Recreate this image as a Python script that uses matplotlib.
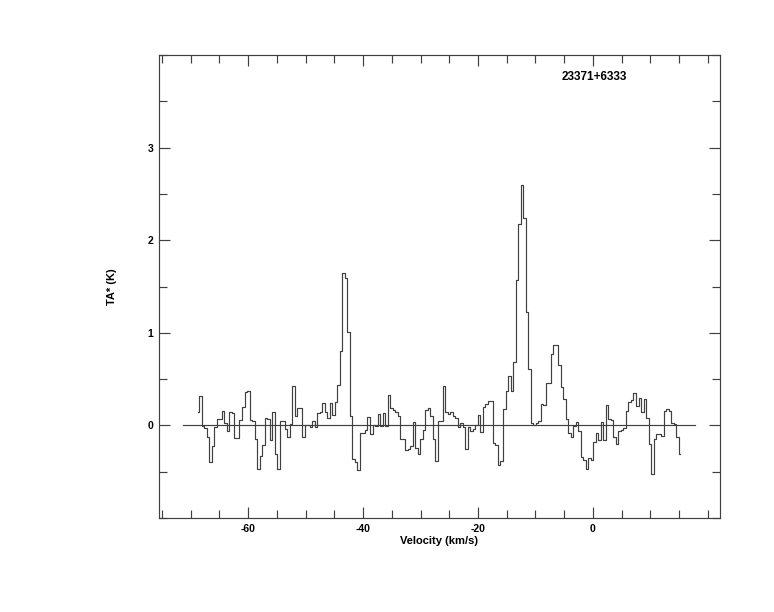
import numpy as np
import matplotlib
matplotlib.use("Agg")
import matplotlib.pyplot as plt
from matplotlib.ticker import MultipleLocator

# ---- data ----
title_text = "23371+6333"
x_label = "Velocity (km/s)"
y_label = "TA* (K)"
v_first = -68.7      # km/s, centre of first channel
v_step = 0.4366      # km/s, channel width
ta_values = [
    0.14, 0.32, -0.01, -0.03, -0.13, -0.39, -0.22, -0.02, 0.07, 0.07,
    0.16, 0.03, -0.06, 0.15, 0.13, -0.14, -0.14, 0.06, 0.20, 0.36,
    0.37, 0.06, 0.05, -0.15, -0.47, -0.33, -0.21, 0.08, 0.07, -0.16,
    0.14, -0.31, -0.47, 0.05, 0.05, -0.04, -0.12, 0.01, 0.43, 0.10,
    0.19, 0.19, -0.13, 0.00, 0.00, -0.02, 0.05, -0.02, 0.13, 0.15,
    0.24, 0.14, 0.08, 0.24, 0.11, 0.25, 0.44, 0.80, 1.65, 1.59,
    1.01, 0.10, -0.36, -0.40, -0.48, -0.08, -0.08, -0.05, 0.09, -0.09,
    0.00, -0.01, 0.12, -0.01, 0.13, -0.01, 0.33, 0.19, 0.17, 0.14,
    0.10, -0.15, -0.15, -0.27, -0.25, -0.22, 0.04, -0.24, -0.31, -0.15,
    -0.05, 0.17, 0.19, 0.10, -0.15, -0.38, 0.05, 0.05, 0.43, 0.14,
    0.12, 0.14, 0.10, 0.08, -0.02, 0.03, -0.02, -0.25, -0.02, -0.06,
    -0.04, 0.00, 0.11, -0.07, 0.20, 0.23, 0.26, 0.26, -0.19, -0.21,
    -0.43, -0.38, 0.18, 0.37, 0.53, 0.37, 0.68, 1.57, 2.18, 2.60,
    2.24, 1.23, 0.61, 0.03, 0.00, 0.03, 0.05, 0.23, 0.22, 0.46,
    0.46, 0.77, 0.87, 0.87, 0.65, 0.41, 0.29, 0.07, -0.08, -0.12,
    -0.01, 0.04, -0.06, -0.34, -0.37, -0.47, -0.35, -0.37, -0.18, -0.08,
    -0.16, 0.04, -0.16, 0.22, 0.07, 0.06, -0.13, -0.20, -0.06, -0.05,
    -0.03, 0.16, 0.25, 0.27, 0.35, 0.21, 0.30, 0.14, 0.29, 0.08,
    -0.20, -0.52, -0.15, -0.09, -0.09, -0.11, 0.16, 0.18, 0.16, 0.03,
    0.01, -0.12, -0.31,
]
baseline_range = [-71.3, 17.7]
x_limits = [-75.5, 22.1]
y_limits = [-1.0, 4.0]
x_major_ticks = [-60, -40, -20, 0]
y_major_ticks = [0, 1, 2, 3]

velocity = v_first + v_step * np.arange(len(ta_values))

# ---- figure ----
plt.rcParams['font.family'] = ['Liberation Sans', 'DejaVu Sans']
plt.rcParams['axes.unicode_minus'] = False
fig = plt.figure(figsize=(7.74, 6.12), dpi=100)
ax = fig.add_axes([159/774, 1 - 518/612, (720-159)/774, (518-55)/612])

line_col = '#404040'
ax.step(velocity, ta_values, where='mid', color=line_col, lw=0.85)
ax.plot(baseline_range, [0, 0], color=line_col, lw=0.85)

ax.set_xlim(*x_limits)
ax.set_ylim(*y_limits)
ax.set_xticks(x_major_ticks)
ax.set_yticks(y_major_ticks)
ax.xaxis.set_minor_locator(MultipleLocator(5))
ax.yaxis.set_minor_locator(MultipleLocator(0.5))
ax.tick_params(which='both', direction='in', top=True, right=True,
               color=line_col, width=0.85, labelsize=7.5, pad=4)
ax.tick_params(which='major', length=8)
ax.tick_params(which='minor', length=5.5)
for lab in ax.get_xticklabels() + ax.get_yticklabels():
    lab.set_fontweight('bold')
for sp in ax.spines.values():
    sp.set_color(line_col)
    sp.set_linewidth(0.85)

ax.set_xlabel(x_label, fontsize=8, fontweight='bold', labelpad=2)
ax.set_ylabel(y_label, fontsize=8, fontweight='bold', labelpad=22)
ax.text(0.3, 3.76, title_text, fontsize=8.5, fontweight='bold', ha='center', va='center')

fig.savefig("out.png", dpi=100)
